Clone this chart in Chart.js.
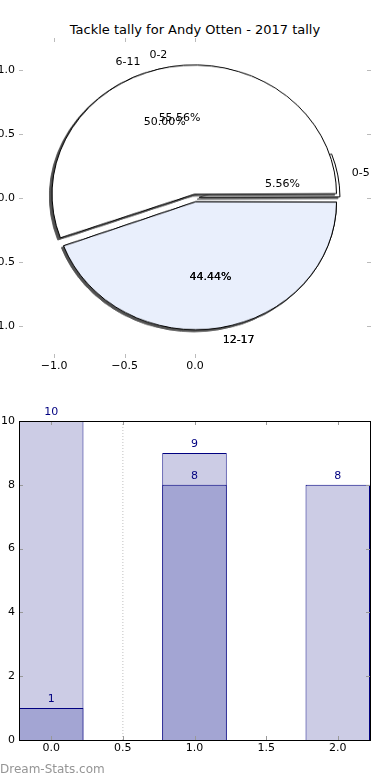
<!DOCTYPE html>
<html>
<head>
<meta charset="utf-8">
<script src="https://cdn.jsdelivr.net/npm/chart.js@4.4.1/dist/chart.umd.min.js"></script>
<style>
  body { margin: 0; width: 390px; height: 780px; background: #fff; position: relative; overflow: hidden; font-family: "DejaVu Sans", sans-serif; }
  canvas { position: absolute; left: 0; }
  #title { position: absolute; top: 22px; left: 0; width: 390px; text-align: center; font-size: 13px; color: #000; }
  #mark { position: absolute; left: 0; top: 762px; font-size: 12px; color: #959595; }
  /* pie is squashed a bit, like the picture, and gets a drop shadow */
  #pieA, #pieB { top: 33px; transform: scaleY(0.908); transform-origin: 50% 50%; filter: drop-shadow(-2px 2px 0 rgba(80,80,80,0.9)); }
  #pieAxes { top: 0; }
  #bars { top: 390px; }
</style>
</head>
<body>
<div id="title">Tackle tally for Andy Otten - 2017 tally</div>
<canvas id="pieA" width="390" height="330"></canvas>
<canvas id="pieB" width="390" height="330"></canvas>
<canvas id="pieAxes" width="390" height="380"></canvas>
<canvas id="bars" width="390" height="370"></canvas>
<div id="mark">Dream-Stats.com</div>

<script>
// Pie values - two pies are drawn on top of each other, like in the picture
let pieALabels = ["0-5", "6-11", "12-17"];
let pieAValues = [1, 9, 8];
let pieAColors = ["#ffffff", "#ffffff", "#e9effc"];

let pieBLabels = ["0-2", "12-17"];
let pieBValues = [10, 8];
let pieBColors = ["#ffffff", "#e9effc"];

let pieExplode = 0.03; // in radius units
let pieXTicks = [-1.0, -0.5, 0.0];
let pieYTicks = [-1.0, -0.5, 0.0, 0.5, 1.0];

// Bar values
let barX = [0, 1, 2];
let lightValues = [10, 9, 8];
let darkValues = [1, 8, 0];
let markerX = 0.5;
let barXTicks = [0.0, 0.5, 1.0, 1.5, 2.0];
let barYTicks = [0, 2, 4, 6, 8, 10];

Chart.defaults.font.family = "'DejaVu Sans', sans-serif";
Chart.defaults.font.size = 11;
Chart.defaults.color = "#000";

let pieRadius = 138;

function fmt(v) {
    return v.toFixed(1).replace("-", "\u2212");
}

function makePie(id, labels, values, colors) {
    // matplotlib goes counter clockwise from the east, chart.js goes clockwise,
    // so the order is turned around
    return new Chart(id, {
        type: "pie",
        data: {
            labels: labels.slice().reverse(),
            datasets: [{
                data: values.slice().reverse(),
                backgroundColor: colors.slice().reverse(),
                borderColor: "#000",
                borderWidth: 1,
                offset: pieExplode * 141 * 4 // chart.js moves the wedge by offset / 4
            }]
        },
        options: {
            responsive: false,
            animation: false,
            events: [],
            rotation: 90,
            radius: pieRadius,
            layout: { padding: 0 },
            plugins: { legend: { display: false }, tooltip: { enabled: false } }
        }
    });
}

makePie("pieA", pieALabels, pieAValues, pieAColors);
makePie("pieB", pieBLabels, pieBValues, pieBColors);

// small inward tick marks on every side
function drawInTicks(chart, color, xs, ys) {
    let ctx = chart.ctx;
    let a = chart.chartArea;
    let sx = chart.scales.x;
    let sy = chart.scales.y;
    ctx.save();
    ctx.strokeStyle = color;
    ctx.lineWidth = 1;
    ctx.beginPath();
    for (let v of xs) {
        let px = Math.round(sx.getPixelForValue(v)) + 0.5;
        ctx.moveTo(px, a.top); ctx.lineTo(px, a.top + 4);
        ctx.moveTo(px, a.bottom); ctx.lineTo(px, a.bottom - 4);
    }
    for (let v of ys) {
        let py = Math.round(sy.getPixelForValue(v)) + 0.5;
        ctx.moveTo(a.left, py); ctx.lineTo(a.left + 4, py);
        ctx.moveTo(a.right, py); ctx.lineTo(a.right - 4, py);
    }
    ctx.stroke();
    ctx.restore();
}

// labels of both pies, placed like matplotlib does
function drawPieText(chart, labels, values) {
    let ctx = chart.ctx;
    let sx = chart.scales.x;
    let sy = chart.scales.y;
    let total = values.reduce((s, v) => s + v, 0);
    let start = 0;
    ctx.save();
    ctx.fillStyle = "#000";
    ctx.font = "11px 'DejaVu Sans'";
    ctx.textBaseline = "middle";
    for (let i = 0; i < values.length; i++) {
        let frac = values[i] / total;
        let mid = (start + frac * 180) * Math.PI / 180;
        start += frac * 360;
        let dx = Math.cos(mid);
        let dy = Math.sin(mid);
        let cx = pieExplode * dx;
        let cy = pieExplode * dy;
        let lx = cx + 1.1 * dx;
        let ly = cy + 1.1 * dy;
        ctx.textAlign = lx > 0 ? "left" : "right";
        ctx.fillText(labels[i], sx.getPixelForValue(lx), sy.getPixelForValue(ly));
        ctx.textAlign = "center";
        ctx.fillText((frac * 100).toFixed(2) + "%",
            sx.getPixelForValue(cx + 0.6 * dx), sy.getPixelForValue(cy + 0.6 * dy));
    }
    ctx.restore();
}

new Chart("pieAxes", {
    type: "scatter",
    data: { datasets: [{ data: [] }] },
    options: {
        responsive: false,
        animation: false,
        events: [],
        layout: { padding: { top: 38, right: 19, left: 0, bottom: 0 } },
        plugins: { legend: { display: false }, tooltip: { enabled: false } },
        scales: {
            x: {
                min: -1.25, max: 1.25,
                grid: { display: false, drawTicks: false }, border: { display: false },
                afterBuildTicks: (s) => { s.ticks = pieXTicks.map(v => ({ value: v })); },
                afterFit: (s) => { s.height = 22; },
                ticks: { padding: 2, maxRotation: 0, callback: (v) => fmt(v) }
            },
            y: {
                min: -1.25, max: 1.25,
                grid: { display: false, drawTicks: false }, border: { display: false },
                afterBuildTicks: (s) => { s.ticks = pieYTicks.map(v => ({ value: v })); },
                afterFit: (s) => { s.width = 19; },
                ticks: { padding: 4, callback: (v) => fmt(v) }
            }
        }
    },
    plugins: [{
        id: "pieDecor",
        afterDraw(chart) {
            drawInTicks(chart, "#bbbbbb", pieXTicks, pieYTicks);
            drawPieText(chart, pieALabels, pieAValues);
            drawPieText(chart, pieBLabels, pieBValues);
        }
    }]
});

// Bar chart. Ticks are 0.5 apart, so 0.9 of that gives bars 0.45 wide
new Chart("bars", {
    type: "bar",
    data: {
        datasets: [{
            data: barX.map((x, i) => ({ x: x, y: darkValues[i] })),
            backgroundColor: "#a3a5d3",
            borderColor: "#000080",
            borderWidth: 1,
            grouped: false,
            barPercentage: 0.9,
            categoryPercentage: 1
        }, {
            data: barX.map((x, i) => ({ x: x, y: lightValues[i] })),
            backgroundColor: "#cccce5",
            borderColor: "#000080",
            borderWidth: 1,
            grouped: false,
            barPercentage: 0.9,
            categoryPercentage: 1
        }, {
            type: "line",
            data: [{ x: markerX, y: 0 }, { x: markerX, y: 10 }],
            borderColor: "#c0c0c0",
            borderWidth: 1,
            borderDash: [1, 2],
            pointRadius: 0
        }]
    },
    options: {
        responsive: false,
        animation: false,
        events: [],
        layout: { padding: { top: 31, right: 20, left: 0, bottom: 0 } },
        plugins: { legend: { display: false }, tooltip: { enabled: false } },
        scales: {
            x: {
                type: "linear",
                min: -0.225, max: 2.225,
                offset: false,
                grid: { display: false, drawTicks: false }, border: { display: false },
                afterBuildTicks: (s) => { s.ticks = barXTicks.map(v => ({ value: v })); },
                afterFit: (s) => { s.height = 20; },
                ticks: { padding: 2, maxRotation: 0, callback: (v) => v.toFixed(1) }
            },
            y: {
                min: 0, max: 10,
                grid: { display: false, drawTicks: false }, border: { display: false },
                afterBuildTicks: (s) => { s.ticks = barYTicks.map(v => ({ value: v })); },
                afterFit: (s) => { s.width = 19; },
                ticks: { padding: 4 }
            }
        }
    },
    plugins: [{
        id: "barDecor",
        afterDraw(chart) {
            let ctx = chart.ctx;
            let a = chart.chartArea;
            drawInTicks(chart, "#999999", barXTicks, barYTicks);
            ctx.save();
            ctx.strokeStyle = "#000";
            ctx.lineWidth = 1;
            ctx.strokeRect(Math.round(a.left) + 0.5, Math.round(a.top) + 0.5,
                Math.round(a.right - a.left), Math.round(a.bottom - a.top));
            // values above the bars
            ctx.fillStyle = "#000080";
            ctx.font = "11px 'DejaVu Sans'";
            ctx.textAlign = "center";
            ctx.textBaseline = "bottom";
            for (let d = 0; d < 2; d++) {
                let meta = chart.getDatasetMeta(d);
                let vals = d === 0 ? darkValues : lightValues;
                meta.data.forEach((bar, i) => {
                    if (vals[i] > 0) ctx.fillText(String(vals[i]), bar.x, bar.y - 3);
                });
            }
            ctx.restore();
        }
    }]
});
</script>
</body>
</html>
